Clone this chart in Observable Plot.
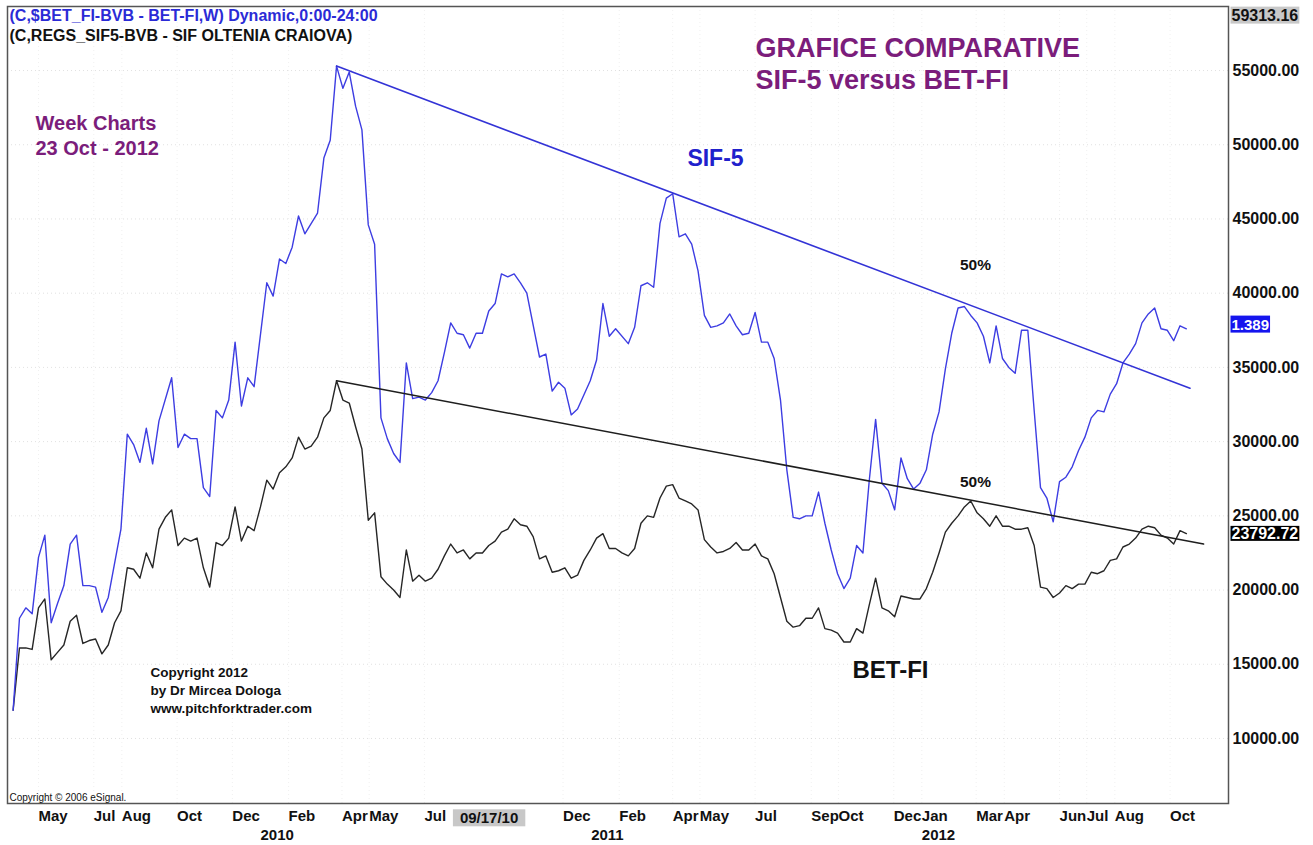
<!DOCTYPE html>
<html>
<head>
<meta charset="utf-8">
<script src="https://cdn.jsdelivr.net/npm/d3@7"></script>
<script src="https://cdn.jsdelivr.net/npm/@observablehq/plot@0.6"></script>
<style>
  html, body { margin: 0; padding: 0; background: #ffffff; }
  #chart { width: 1313px; height: 845px; overflow: hidden; }
</style>
</head>
<body>
<div id="chart"></div>
<script>
// ---------- DATA ----------
// Weekly bars; week 0 = first bar of the chart
const firstWeek = "2009-04-03";

// SIF-5 (SIF Oltenia Craiova), drawn on the BET-FI scale ("Dynamic" overlay); null = not read
const sif5Values = [
  11900, 18100, 18800, 18400, 22200, 23700, 17800, 19100, 20300, 23100,
  23700, 20300, 20300, 20200, 18500, 19500, null, 24100, 30500, 29800,
  28600, 30900, 28500, 31400, null, 34300, 29600, 30500, 30200, 30200,
  26900, 26300, 32100, 31600, 32800, 36700, 32400, 34300, 33700, null,
  40700, 39800, 42300, 42000, 43100, 45200, 44000, null, 45400, 49100,
  50300, 55300, 53800, 54900, 52600, 51000, 44600, 43300, 31600, 30200,
  29200, 28600, 35300, 32900, 33000, 32800, 33300, 34100, 36000, 38000,
  37300, 37200, 36300, 37300, 37300, 38800, 39300, 41300, 41100, 41300,
  40700, 40000, null, 35700, 35900, 33400, 34000, 33600, 31800, 32200,
  null, 34100, 35500, 39300, 37100, 37600, null, 36600, 37700, 40500,
  40700, 40400, 44700, 46400, 46700, 43800, 44000, 43300, 41500, 38500,
  37700, 37800, 38000, 38600, 37800, 37200, 37300, 38700, 36700, 36700,
  35600, 32800, 28100, 24900, 24800, 25000, 25000, 26600, 24500, 22700,
  21100, 20100, 20800, 23000, 22500, 27400, 31500, 27200, 26700, 25400,
  28900, 27500, 26800, 27200, 28100, 30500, 32000, 34900, 37300, 39000,
  39100, 38500, 38000, 37100, 35300, 37800, 35600, 35000, 34600, 37500,
  37500, 32100, 26900, 26200, 24600, 27300, 27600, 28300, 29400, 30300,
  31600, 32100, 32000, 33200, 33900, 35300, 35900, 36600, 38000, 38600,
  39000, 37600, 37500, 36800, 37800, 37600
];

// BET-FI index, weekly close
const betfiValues = [
  11900, 16100, 16100, 16000, 18800, 19400, 15300, 15800, 16300, 17900,
  18300, 16400, 16600, 16700, 15700, 16300, 17800, 18600, 21500, 21400,
  20800, 22500, 21500, 24100, 24900, 25400, 23000, 23500, 23300, 23500,
  21500, 20200, 23200, 23000, 23500, 25600, 23300, 24300, 24000, 25600,
  27400, 26800, 27900, 28300, 28900, 30300, 29500, 29700, 30300, 31600,
  32100, 34100, 32800, 32600, 31000, 29500, 24700, 25200, 20900, 20400,
  20000, 19500, 22700, 20600, 21000, 20600, 20800, 21400, 22300, 23100,
  22500, 22700, 22100, 22500, 22500, 23000, 23300, 23900, 24100, 24800,
  24400, 24300, 23600, 22100, 22300, 21200, 21300, 21500, 20800, 21000,
  22000, 22700, 23500, 23800, 22800, 22800, 22500, 22300, 22800, 24500,
  25000, 24900, 26200, 27000, 27100, 26200, 26000, 25800, 25400, 23400,
  22900, 22500, 22600, 22800, 23200, 22700, 22700, 23100, 22300, 22100,
  21100, 19500, 17900, 17500, 17600, 18100, 18100, 18800, 17400, 17300,
  17100, 16500, 16500, 17400, 17100, 19000, 20800, 18800, 18600, 18200,
  19600, 19500, 19400, 19400, 20100, 21200, 22500, 23900, 24500, 25000,
  25600, 26000, 25200, 24800, 24300, 25000, 24300, 24300, 24100, 24100,
  24200, 23000, 20200, 20100, 19500, 19800, 20300, 20100, 20400, 20400,
  21200, 21100, 21300, 22000, 22100, 22900, 23100, 23500, 24100, 24300,
  24200, 23700, 23500, 23100, 24000, 23800
];

// Drawn trendlines (start / end)
const sifTrendDates = ["2010-03-26", "2012-10-23"];
const sifTrendValues = [55300, 33600];
const betTrendDates = ["2010-03-26", "2012-11-07"];
const betTrendValues = [34100, 23100];

// Axis ticks
const yTickValues = [10000, 15000, 20000, 25000, 30000, 35000, 40000, 45000, 50000, 55000];
const yTop = 59313.16;
const yBottom = 5620;
const monthTickDates = [
  "2009-05-01", "2009-07-01", "2009-08-01", "2009-10-01", "2009-12-01",
  "2010-02-01", "2010-04-01", "2010-05-01", "2010-07-01", "2010-12-01",
  "2011-02-01", "2011-04-01", "2011-05-01", "2011-07-01", "2011-09-01",
  "2011-10-01", "2011-12-01", "2012-01-01", "2012-03-01", "2012-04-01",
  "2012-06-01", "2012-07-01", "2012-08-01", "2012-10-01"
];
const monthTickLabels = [
  "May", "Jul", "Aug", "Oct", "Dec",
  "Feb", "Apr", "May", "Jul", "Dec",
  "Feb", "Apr", "May", "Jul", "Sep",
  "Oct", "Dec", "Jan", "Mar", "Apr",
  "Jun", "Jul", "Aug", "Oct"
];
const yearTickDates = ["2010-01-01", "2011-01-01", "2012-01-01"];
const yearTickLabels = ["2010", "2011", "2012"];
const xStart = "2009-03-27T19:00:00Z";
const xEnd = "2012-12-04T12:00:00Z";
const cursorDate = "2010-09-17";
const cursorLabel = "09/17/10";
const sifLastPrice = "1.389";
const betLastValue = 23792.72;

// ---------- BUILD ----------
const utc = s => new Date(s.length === 10 ? s + "T00:00:00Z" : s);
const W0 = utc(firstWeek);
const weekDate = i => new Date(+W0 + i * 7 * 864e5);

const sif = sif5Values.map((v, i) => ({date: weekDate(i), value: v})).filter(d => d.value != null);
const bet = betfiValues.map((v, i) => ({date: weekDate(i), value: v}));
const sifTrend = sifTrendDates.map((d, i) => ({date: utc(d), value: sifTrendValues[i]}));
const betTrend = betTrendDates.map((d, i) => ({date: utc(d), value: betTrendValues[i]}));

const monthDates = monthTickDates.map(utc);
const monthMap = new Map(monthDates.map((d, i) => [+d, monthTickLabels[i]]));
const yearDates = yearTickDates.map(utc);
const yearMap = new Map(yearDates.map((d, i) => [+d, yearTickLabels[i]]));

const FONT = "'Liberation Sans', Arial, Helvetica, sans-serif";
const PURPLE = "#7b1d7b";

function note(txt, dx, dy, opts = {}) {
  return Plot.text([txt], {
    text: d => d, frameAnchor: "top-left", dx, dy,
    textAnchor: "start", lineAnchor: "middle",
    fontWeight: "bold", fontSize: 14, fill: "#111", ...opts
  });
}

const chart = Plot.plot({
  width: 1313,
  height: 845,
  marginLeft: 7,
  marginRight: 85,
  marginTop: 6,
  marginBottom: 42,
  style: {fontFamily: FONT, background: "#ffffff", overflow: "visible"},
  x: {type: "utc", domain: [utc(xStart), utc(xEnd)]},
  y: {domain: [yBottom, yTop]},
  marks: [
    Plot.gridY(yTickValues, {stroke: "#9a9a9a", strokeOpacity: 0.3, strokeDasharray: "1,3"}),
    Plot.gridX(monthDates, {stroke: "#9a9a9a", strokeOpacity: 0.15, strokeDasharray: "1,3"}),
    Plot.line(bet, {x: "date", y: "value", stroke: "#262626", strokeWidth: 1.4}),
    Plot.line(sif, {x: "date", y: "value", stroke: "#3d3de2", strokeWidth: 1.4}),
    Plot.line(sifTrend, {x: "date", y: "value", stroke: "#3333d6", strokeWidth: 1.6}),
    Plot.line(betTrend, {x: "date", y: "value", stroke: "#1e1e1e", strokeWidth: 1.5}),
    Plot.frame({stroke: "#555", strokeWidth: 1.5}),
    Plot.axisY({
      anchor: "right", ticks: yTickValues, tickFormat: d => d.toFixed(2),
      tickSize: 0, tickPadding: 4, fontSize: 16, fontWeight: "bold", label: null, fill: "#111"
    }),
    Plot.axisX({
      ticks: monthDates, tickFormat: d => monthMap.get(+d),
      tickSize: 0, tickPadding: 7, textAnchor: "start",
      fontSize: 15, fontWeight: "bold", label: null, fill: "#111"
    }),
    Plot.axisX({
      ticks: yearDates, tickFormat: d => yearMap.get(+d),
      tickSize: 0, tickPadding: 26, textAnchor: "start",
      fontSize: 15, fontWeight: "bold", label: null, fill: "#111"
    }),
    // cursor date label on the time axis
    Plot.text([utc(cursorDate)], {
      x: d => d, text: () => cursorLabel, frameAnchor: "bottom", dy: 15, dx: -6,
      textAnchor: "middle", lineAnchor: "middle", fontSize: 15, fontWeight: "bold", fill: "#111"
    }),
    // last-value badges on the price axis
    Plot.text([yTop], {
      y: d => d, text: d => d.toFixed(2), frameAnchor: "right", dx: 3, dy: 9,
      textAnchor: "start", lineAnchor: "middle", fontSize: 16, fontWeight: "bold", fill: "#111"
    }),
    Plot.text([sif[sif.length - 1]], {
      y: "value", text: () => sifLastPrice, frameAnchor: "right", dx: 3, dy: -4,
      textAnchor: "start", lineAnchor: "middle", fontSize: 15, fontWeight: "bold", fill: "#ffffff"
    }),
    Plot.text([betLastValue], {
      y: d => d, text: d => d.toFixed(2), frameAnchor: "right", dx: 3,
      textAnchor: "start", lineAnchor: "middle", fontSize: 16, fontWeight: "bold", fill: "#ffffff"
    }),
    // header / legend
    note("(C,$BET_FI-BVB - BET-FI,W) Dynamic,0:00-24:00", 2, 9.5, {fontSize: 16, fill: "#2b2bd6"}),
    note("(C,REGS_SIF5-BVB - SIF OLTENIA CRAIOVA)", 2, 29, {fontSize: 16, fill: "#111"}),
    // titles
    note("GRAFICE COMPARATIVE", 748, 42, {fontSize: 27, fill: PURPLE}),
    note("SIF-5 versus BET-FI", 748, 74, {fontSize: 27, fill: PURPLE}),
    note("Week Charts", 28, 117, {fontSize: 20, fill: PURPLE}),
    note("23 Oct - 2012", 28, 142, {fontSize: 20, fill: PURPLE}),
    // series labels
    note("SIF-5", 708, 152, {fontSize: 23, fill: "#2020cc", textAnchor: "middle"}),
    note("BET-FI", 883, 664, {fontSize: 24, fill: "#111", textAnchor: "middle"}),
    note("50%", 968, 259, {fontSize: 15.5, textAnchor: "middle"}),
    note("50%", 968, 476, {fontSize: 15.5, textAnchor: "middle"}),
    // copyright
    note("Copyright 2012", 143, 666, {fontSize: 13.5}),
    note("by Dr Mircea Dologa", 143, 684, {fontSize: 13.5}),
    note("www.pitchforktrader.com", 143, 702, {fontSize: 13.5}),
    note("Copyright \u00a9 2006 eSignal.", 2, 791, {fontSize: 10, fontWeight: "normal"})
  ]
});

document.getElementById("chart").append(chart);

// background boxes behind the axis badges
const badgeStyles = new Map([
  [yTop.toFixed(2), {bg: "#c8c8c8", px: 1, py: 0}],
  [sifLastPrice, {bg: "#1515ee", px: 1, py: 0}],
  [betLastValue.toFixed(2), {bg: "#000000", px: 1, py: -1}],
  [cursorLabel, {bg: "#c8c8c8", px: 7, py: 0}]
]);
d3.select(chart).selectAll("text").each(function () {
  const st = badgeStyles.get(this.textContent);
  if (!st) return;
  const bb = this.getBBox();
  d3.select(this.parentNode).insert("rect", () => this)
    .attr("x", bb.x - st.px).attr("y", bb.y - st.py)
    .attr("width", bb.width + 2 * st.px).attr("height", bb.height + 2 * st.py)
    .attr("transform", this.getAttribute("transform"))
    .attr("fill", st.bg);
});
</script>
</body>
</html>
